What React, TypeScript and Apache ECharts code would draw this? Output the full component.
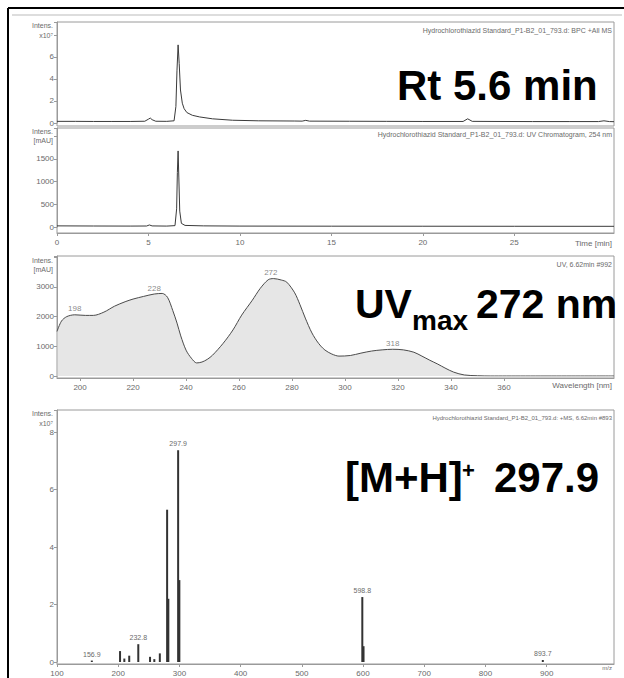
import React, { useEffect, useRef } from "react";
import * as echarts from "echarts";

// Panel 1: BPC +All MS (time min, intensity x1e7)
const bpcTime = [0, 1, 2, 3, 4, 4.8, 5.0, 5.1, 5.2, 5.4, 6.0, 6.4, 6.5, 6.56, 6.62, 6.68, 6.75, 6.85, 6.95, 7.1, 7.4, 7.8, 8.5, 9.6, 11, 13, 13.4, 13.6, 13.8, 16, 18, 20, 22.2, 22.45, 22.7, 24, 26, 28, 29.6, 29.9, 30.2, 30.45];
const bpcInt = [0.15, 0.15, 0.14, 0.14, 0.14, 0.16, 0.35, 0.45, 0.3, 0.16, 0.15, 0.2, 1.5, 4.8, 7.1, 5.4, 3.0, 1.8, 1.3, 0.95, 0.7, 0.55, 0.38, 0.25, 0.2, 0.18, 0.17, 0.24, 0.17, 0.16, 0.15, 0.14, 0.14, 0.38, 0.15, 0.14, 0.13, 0.13, 0.13, 0.2, 0.13, 0.12];

// Panel 2: UV chromatogram 254 nm (time min, mAU)
const uvTime = [0, 2, 4, 4.9, 5.05, 5.2, 6.0, 6.45, 6.54, 6.58, 6.62, 6.66, 6.71, 6.8, 7.0, 8, 10, 15, 20, 25, 30.45];
const uvInt = [25, 22, 20, 22, 45, 24, 20, 30, 400, 1200, 1675, 1100, 350, 80, 35, 25, 20, 18, 17, 16, 15];

// Panel 3: UV spectrum (nm, mAU)
const specNm = [191.3, 193, 195, 198, 202, 205, 209, 213, 217, 220, 224, 228, 231, 233, 235, 236.6, 238, 240, 242, 244, 246, 248, 250, 254, 257.7, 261, 265, 268, 271, 273, 276, 278, 281, 283, 285, 287.5, 290, 292.4, 295, 297.7, 302, 306, 310, 314, 318, 322, 326, 329, 332, 335, 337.7, 341, 345, 350, 355, 401.5];
const specAbs = [1500, 1850, 2000, 2060, 2040, 2040, 2150, 2350, 2500, 2590, 2680, 2760, 2780, 2650, 2200, 1780, 1350, 870, 600, 440, 470, 560, 700, 1100, 1550, 2050, 2550, 2950, 3240, 3280, 3230, 3160, 2800, 2400, 1950, 1450, 1100, 875, 740, 670, 690, 770, 840, 880, 900, 880, 800, 670, 530, 400, 270, 130, 35, 8, 0, 0];
const specPeakNm = [198, 228, 272, 318];
const specPeakAbs = [2060, 2760, 3280, 900];

// Panel 4: MS spectrum (m/z, intensity x1e7)
const msMz = [156.9, 203, 210, 218, 232.8, 252, 259, 268, 279.9, 281.9, 297.9, 299.9, 598.8, 600.8, 893.7];
const msInt = [0.05, 0.38, 0.12, 0.22, 0.62, 0.18, 0.1, 0.3, 5.3, 2.2, 7.37, 2.85, 2.26, 0.55, 0.07];
const msLabeled = [156.9, 232.8, 297.9, 598.8, 893.7];

// Tick labels
const timeTicks = [0, 5, 10, 15, 20, 25];
const nmTicks = [200, 220, 240, 260, 280, 300, 320, 340, 360];
const mzTicks = [100, 200, 300, 400, 500, 600, 700, 800, 900];

const FONT = "Liberation Sans";
const GREY = "#6a6a6a";
const FRAME = "#9a9a9a";

function yAxisCfg(gi: number, max: number, interval: number, shown: number[]) {
  return {
    type: "value",
    gridIndex: gi,
    min: 0,
    max,
    interval,
    axisLine: { show: true, lineStyle: { color: FRAME, width: 1 } },
    axisTick: { show: true, length: 3, lineStyle: { color: FRAME } },
    splitLine: { show: false },
    axisLabel: {
      color: GREY,
      fontSize: 8,
      fontFamily: FONT,
      margin: 3,
      showMaxLabel: true,
      formatter: (v: number) => (shown.indexOf(v) >= 0 ? String(v) : ""),
    },
  };
}

function xAxisCfg(gi: number, min: number, max: number, ticks: number[], show: boolean, offset: number) {
  return {
    type: "value",
    gridIndex: gi,
    min,
    max,
    offset,
    show,
    axisLine: { show: true, onZero: false, lineStyle: { color: FRAME, width: 1 } },
    axisTick: { show: true, length: 3, customValues: ticks, lineStyle: { color: FRAME } },
    splitLine: { show: false },
    axisLabel: {
      color: GREY,
      fontSize: 8,
      fontFamily: FONT,
      margin: 5,
      customValues: ticks,
      formatter: (v: number) => String(v),
    },
  };
}

function smallText(x: number, y: number, text: string, align: string, size = 7) {
  return {
    type: "text",
    x,
    y,
    silent: true,
    style: { text, fill: GREY, font: `${size}px "${FONT}"`, align, verticalAlign: "middle" },
  };
}

function bigText(x: number, baseline: number, text: string, size: number) {
  return {
    type: "text",
    x,
    y: baseline - size * 0.34,
    silent: true,
    style: { text, fill: "#000", font: `bold ${size}px "${FONT}"`, align: "left", verticalAlign: "middle" },
  };
}

function frame(y1: number, y2: number) {
  return {
    type: "rect",
    silent: true,
    shape: { x: 57, y: y1, width: 557, height: y2 - y1 },
    style: { fill: "none", stroke: FRAME, lineWidth: 1 },
  };
}

export default function App() {
  const ref = useRef<HTMLDivElement>(null);
  useEffect(() => {
    const chart = echarts.init(ref.current!, null, { renderer: "svg" });
    const option: any = {
      animation: false,
      backgroundColor: "#fff",
      grid: [
        { left: 57, top: 22, width: 557, height: 101 },
        { left: 57, top: 128, width: 557, height: 99 },
        { left: 57, top: 256, width: 557, height: 120 },
        { left: 57, top: 410, width: 557, height: 252 },
      ],
      xAxis: [
        xAxisCfg(0, 0, 30.45, timeTicks, false, 0),
        xAxisCfg(1, 0, 30.45, timeTicks, true, 6),
        xAxisCfg(2, 191.3, 401.5, nmTicks, true, 2),
        xAxisCfg(3, 100, 1010, mzTicks, true, 2),
      ],
      yAxis: [
        yAxisCfg(0, 9.18, 2, [0, 2, 4, 6]),
        yAxisCfg(1, 2180, 500, [0, 500, 1000, 1500]),
        yAxisCfg(2, 4040, 1000, [0, 1000, 2000, 3000]),
        yAxisCfg(3, 8.77, 2, [0, 2, 4, 6, 8]),
      ],
      series: [
        {
          type: "line",
          xAxisIndex: 0,
          yAxisIndex: 0,
          showSymbol: false,
          data: bpcTime.map((t, i) => [t, bpcInt[i]]),
          lineStyle: { color: "#3a3a3a", width: 1 },
        },
        {
          type: "line",
          xAxisIndex: 1,
          yAxisIndex: 1,
          showSymbol: false,
          data: uvTime.map((t, i) => [t, uvInt[i]]),
          lineStyle: { color: "#3a3a3a", width: 1 },
        },
        {
          type: "line",
          xAxisIndex: 2,
          yAxisIndex: 2,
          showSymbol: false,
          smooth: 0.3,
          data: specNm.map((t, i) => [t, specAbs[i]]),
          lineStyle: { color: "#4a4a4a", width: 1 },
          areaStyle: { color: "#dcdcdc" },
        },
        {
          type: "scatter",
          xAxisIndex: 2,
          yAxisIndex: 2,
          symbolSize: 0,
          data: specPeakNm.map((t, i) => [t, specPeakAbs[i]]),
          label: {
            show: true,
            position: "top",
            distance: 2,
            color: GREY,
            fontSize: 8,
            fontFamily: FONT,
            formatter: (p: any) => String(p.value[0]),
          },
        },
        {
          type: "bar",
          xAxisIndex: 3,
          yAxisIndex: 3,
          barWidth: 2,
          data: msMz.map((m, i) => ({
            value: [m, msInt[i]],
            label: {
              show: msLabeled.indexOf(m) >= 0,
              position: "top",
              distance: 3,
              color: GREY,
              fontSize: 7,
              fontFamily: FONT,
              formatter: m.toFixed(1),
            },
          })),
          itemStyle: { color: "#333" },
        },
      ],
      graphic: [
        { type: "line", silent: true, shape: { x1: 8, y1: 8, x2: 624, y2: 8 }, style: { stroke: "#000", lineWidth: 2 } },
        { type: "line", silent: true, shape: { x1: 8, y1: 8, x2: 8, y2: 678 }, style: { stroke: "#000", lineWidth: 2 } },
        { type: "line", silent: true, shape: { x1: 12, y1: 15, x2: 622, y2: 15 }, style: { stroke: "#bbb", lineWidth: 1 } },
        frame(22, 126),
        frame(128, 233),
        frame(256, 378),
        frame(410, 664),
        smallText(612, 30, "Hydrochlorothiazid Standard_P1-B2_01_793.d: BPC +All MS", "right", 7),
        smallText(612, 134, "Hydrochlorothiazid Standard_P1-B2_01_793.d: UV Chromatogram, 254 nm", "right", 7),
        smallText(612, 264, "UV, 6.62min #992", "right", 7),
        smallText(612, 418, "Hydrochlorothiazid Standard_P1-B2_01_793.d: +MS, 6.62min #893", "right", 6),
        smallText(53, 25, "Intens.", "right"),
        smallText(53, 35, "x10\u2077", "right"),
        smallText(53, 131, "Intens.", "right"),
        smallText(53, 140, "[mAU]", "right"),
        smallText(53, 260, "Intens.", "right"),
        smallText(53, 269, "[mAU]", "right"),
        smallText(53, 413, "Intens.", "right"),
        smallText(53, 423, "x10\u2077", "right"),
        smallText(612, 243, "Time [min]", "right", 8),
        smallText(612, 385, "Wavelength [nm]", "right", 8),
        smallText(612, 668, "m/z", "right", 6),
        bigText(397, 100, "Rt 5.6 min", 42),
        bigText(355, 318, "UV", 41),
        bigText(412, 330, "max", 28),
        bigText(476, 318, "272 nm", 41),
        bigText(345, 492, "[M+H]", 42),
        bigText(462, 478, "+", 22),
        bigText(494, 492, "297.9", 42),
      ],
    };
    chart.setOption(option);
    return () => chart.dispose();
  }, []);
  return (
    <div
      ref={ref}
      style={{ position: "fixed", left: 0, top: 0, width: 624, height: 678, background: "#fff" }}
    />
  );
}
